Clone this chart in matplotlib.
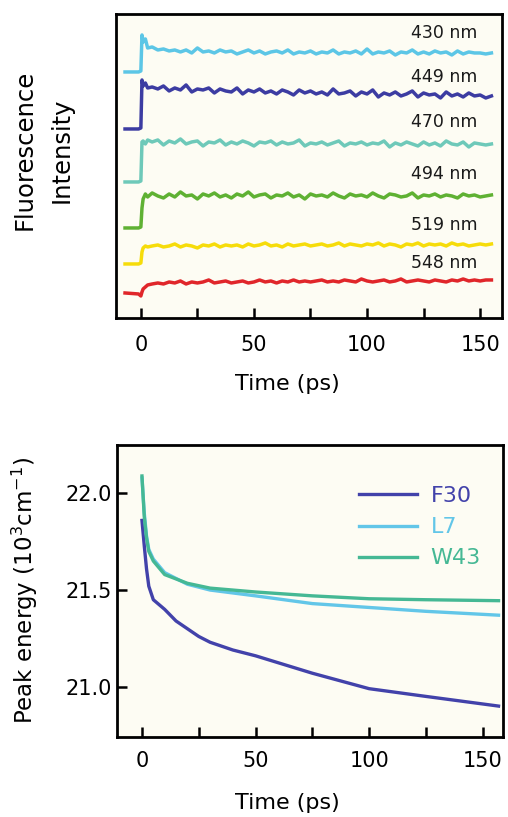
import numpy as np
import matplotlib
matplotlib.use("Agg")
import matplotlib.pyplot as plt

# ---- top panel: fluorescence traces (arbitrary units, offset for display) ----
t_early = [-7, -1, 0, 0.5, 1, 2, 3]
t_late = list(np.arange(5, 155.1, 2.5))
t_trace = t_early + t_late

wavelengths = ["430 nm", "449 nm", "470 nm", "494 nm", "519 nm", "548 nm"]
trace_colors = ["#5cc6e6", "#3c3ca2", "#6ec9b9", "#5fb133", "#f6dc0a", "#e0262a"]

tr_430 = [246, 246, 247, 283, 276, 279, 270,
          271, 268, 269, 267, 268, 266, 268, 265, 270, 266,
          267, 265, 268, 266, 267, 264, 266, 268, 265, 267,
          264, 266, 267, 265, 268, 264, 266, 265, 267, 264,
          266, 265, 268, 264, 266, 265, 267, 264, 269, 264,
          266, 265, 267, 263, 266, 265, 268, 264, 266, 264,
          267, 265, 266, 263, 267, 264, 266, 265, 265, 264, 265]
tr_449 = [189, 189, 190, 238, 232, 235, 230,
          231, 229, 232, 227, 230, 228, 233, 226, 229, 228,
          230, 225, 229, 227, 226, 230, 224, 228, 226, 229,
          225, 227, 224, 228, 226, 223, 228, 225, 227, 224,
          226, 223, 229, 224, 225, 227, 222, 226, 224, 228,
          221, 225, 223, 226, 222, 224, 227, 221, 225, 223,
          224, 220, 226, 222, 224, 221, 225, 222, 223, 220, 222]
tr_470 = [136, 136, 137, 176, 177, 174, 178,
          176, 178, 173, 177, 175, 179, 174, 176, 177, 172,
          176, 175, 178, 173, 176, 174, 177, 175, 172, 176,
          175, 177, 173, 176, 174, 175, 178, 172, 175, 174,
          176, 173, 175, 177, 172, 175, 174, 176, 173, 175,
          174, 177, 171, 175, 173, 176, 174, 172, 176, 173,
          175, 172, 177, 174, 173, 176, 171, 175, 174, 173, 174]
tr_494 = [90, 90, 91, 110, 119, 124, 121,
          125, 122, 120, 124, 121, 126, 122, 123, 119, 124,
          122, 125, 121, 123, 120, 124, 122, 126, 121, 123,
          124, 120, 123, 122, 125, 121, 123, 119, 124, 122,
          123, 121, 125, 122, 120, 124, 122, 123, 121, 125,
          122, 120, 124, 123, 121, 122, 125, 120, 123, 122,
          124, 121, 123, 122, 120, 124, 122, 123, 121, 122, 123]
tr_519 = [54, 54, 55, 66, 70, 72, 71,
          72, 73, 71, 72, 74, 71, 73, 72, 70, 73,
          72, 74, 71, 73, 72, 73, 71, 74, 72, 73,
          75, 72, 73, 71, 74, 72, 73, 74, 72, 73,
          74, 72, 73, 75, 72, 74, 73, 72, 74, 73,
          75, 72, 74, 73, 71, 74, 73, 75, 72, 74,
          73, 74, 72, 75, 73, 74, 72, 73, 74, 73, 74]
tr_548 = [25, 24, 22, 26, 29, 31, 33,
          34, 35, 34, 36, 35, 37, 34, 36, 35, 36,
          38, 35, 36, 37, 35, 36, 37, 35, 36, 38,
          36, 37, 35, 37, 36, 38, 36, 37, 36, 37,
          38, 36, 37, 36, 38, 37, 36, 39, 37, 36,
          37, 38, 36, 37, 39, 36, 37, 38, 37, 36,
          38, 37, 36, 38, 37, 39, 37, 38, 37, 38, 38]
traces = [tr_430, tr_449, tr_470, tr_494, tr_519, tr_548]
label_y = [285, 241, 196, 144, 93, 55]

# ---- bottom panel: peak energy vs time ----
t_f30 = [0, 1, 2, 3, 5, 7, 10, 15, 25, 30, 40, 50, 75, 100, 125, 157]
e_f30 = [21.86, 21.73, 21.61, 21.52, 21.45, 21.43, 21.40, 21.34, 21.26,
         21.23, 21.19, 21.16, 21.07, 20.99, 20.95, 20.90]
t_l7 = [0, 1, 2, 3, 5, 10, 20, 30, 50, 75, 100, 125, 157]
e_l7 = [22.08, 21.90, 21.78, 21.71, 21.66, 21.59, 21.53, 21.50, 21.47,
        21.43, 21.41, 21.39, 21.37]
t_w43 = [0, 1, 2, 3, 5, 10, 20, 30, 50, 75, 100, 125, 157]
e_w43 = [22.09, 21.88, 21.77, 21.70, 21.65, 21.58, 21.535, 21.51, 21.49,
         21.47, 21.455, 21.45, 21.445]
series_names = ["F30", "L7", "W43"]
series_colors = ["#4242aa", "#62c6e8", "#45b894"]

bg = "#fdfcf3"
fs = 15

fig = plt.figure(figsize=(5.08, 8.17), dpi=100)

# top axes
ax1 = fig.add_axes([0.2283, 0.6108, 0.760, 0.3721])
ax1.set_facecolor(bg)
for tr, col in zip(traces, trace_colors):
    ax1.plot(t_trace, tr, color=col, lw=2.5)
for lab, ly in zip(wavelengths, label_y):
    ax1.text(149, ly, lab, ha="right", va="center", fontsize=12.5, color="#1a1a1a")
ax1.set_xlim(-11, 159.7)
ax1.set_ylim(0, 304)
ax1.set_yticks([])
ax1.set_xticks([0, 25, 50, 75, 100, 125, 150])
ax1.set_xticklabels(["0", "", "50", "", "100", "", "150"])
ax1.tick_params(axis="x", direction="in", length=7, width=1.8, labelsize=fs, pad=12)
for s in ax1.spines.values():
    s.set_linewidth(2)

fig.text(0.565, 1 - 384 / 817, "Time (ps)", ha="center", va="center", fontsize=16)
fig.text(25 / 508, 1 - 150 / 817, "Fluorescence", rotation=90, ha="center", va="center", fontsize=17.5)
fig.text(62 / 508, 1 - 150 / 817, "Intensity", rotation=90, ha="center", va="center", fontsize=17.5)

# bottom axes
ax2 = fig.add_axes([0.2303, 0.0979, 0.760, 0.3574])
ax2.set_facecolor(bg)
ax2.plot(t_f30, e_f30, color=series_colors[0], lw=2.4, label=series_names[0])
ax2.plot(t_l7, e_l7, color=series_colors[1], lw=2.4, label=series_names[1])
ax2.plot(t_w43, e_w43, color=series_colors[2], lw=2.4, label=series_names[2])
ax2.set_xlim(-11, 159)
ax2.set_ylim(20.74, 22.25)
ax2.set_xticks([0, 25, 50, 75, 100, 125, 150])
ax2.set_xticklabels(["0", "", "50", "", "100", "", "150"])
ax2.set_yticks([21.0, 21.5, 22.0])
ax2.set_yticklabels(["21.0", "21.5", "22.0"])
ax2.tick_params(axis="both", direction="in", length=7, width=1.8, labelsize=fs)
ax2.tick_params(axis="x", pad=10)
ax2.tick_params(axis="y", pad=4)
for s in ax2.spines.values():
    s.set_linewidth(2)
leg = ax2.legend(loc="upper right", bbox_to_anchor=(1.0, 0.935), frameon=False,
                 fontsize=16, handlelength=2.6, handletextpad=0.6,
                 labelcolor="linecolor", borderaxespad=0.6, labelspacing=0.5)

fig.text(0.565, 1 - 803 / 817, "Time (ps)", ha="center", va="center", fontsize=16)
fig.text(25 / 508, 1 - 590 / 817, "Peak energy (10$^3$cm$^{-1}$)", rotation=90,
         ha="center", va="center", fontsize=16.5)

fig.savefig("out.png", dpi=100)
